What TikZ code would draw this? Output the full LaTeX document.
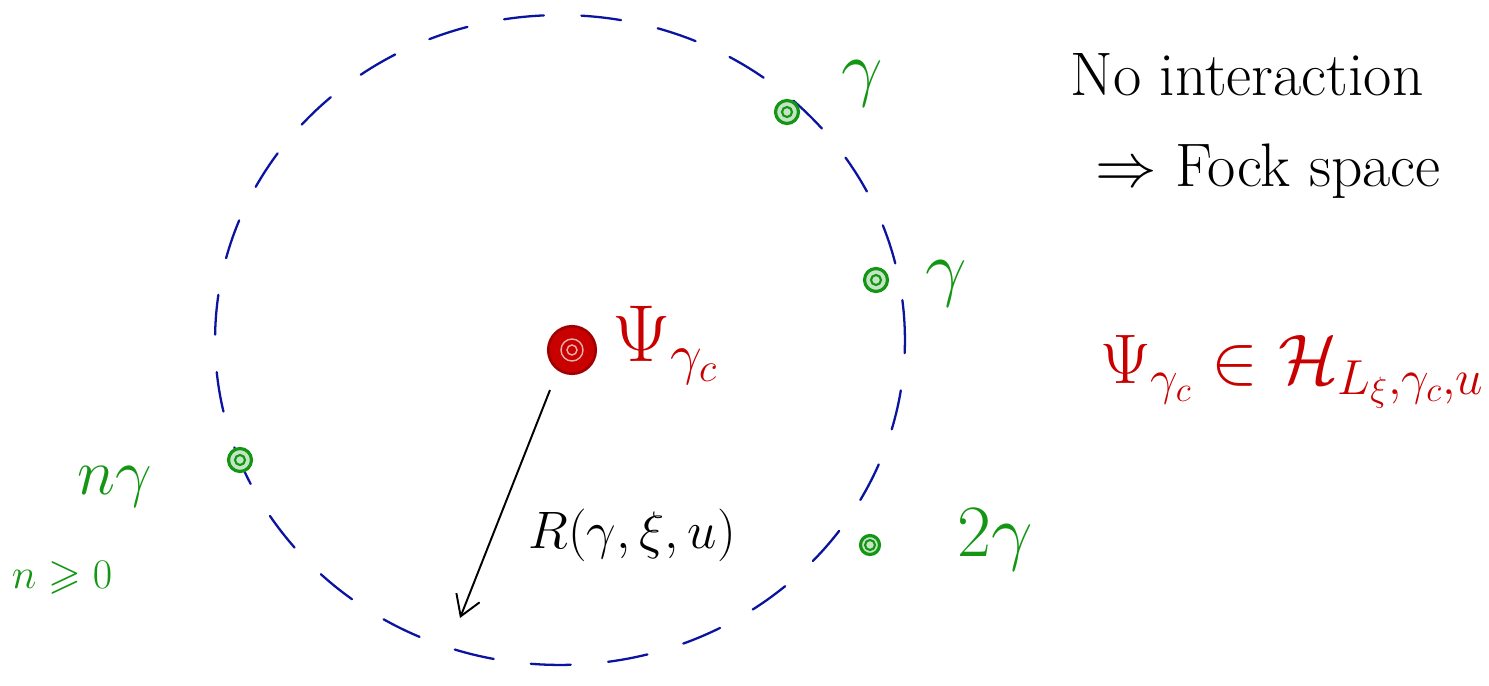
\RequirePackage{fix-cm}
\documentclass[tikz,border=0pt]{standalone}
\usepackage{amsmath,amssymb}
\usetikzlibrary{arrows.meta}
\definecolor{inkblue}{RGB}{10,20,160}
\definecolor{inkgreen}{RGB}{20,150,20}
\definecolor{inkred}{RGB}{200,0,0}
\tikzset{
  big/.style={font=\fontsize{35}{40}\selectfont, inner sep=0pt},
  huge/.style={font=\fontsize{42}{48}\selectfont, inner sep=0pt},
  gdot/.style={circle, draw=inkgreen, line width=1.8pt, fill=inkgreen!25, inner sep=0pt, minimum size=0.46cm},
  rdot/.style={circle, draw=inkred!80!black, line width=1.5pt, fill=inkred, inner sep=0pt, minimum size=0.95cm},
  orbit/.style={draw=inkblue, line width=1.3pt, dash pattern=on 0.8cm off 0.75cm, line cap=round},
}
\begin{document}
\begin{tikzpicture}[x=0.02cm,y=-0.02cm]
\useasboundingbox (0,0) rectangle (1489,686);
% dashed orbit
\path[orbit] (560,340) ellipse [x radius=6.9cm, y radius=6.5cm];
% green dots
\node[gdot] (g1) at (787,112) {};
\node[gdot] (g2) at (876,280) {};
\node[gdot] (g3) at (240,460) {};
\node[gdot, minimum size=0.38cm] (g4) at (870,545) {};
\foreach \g in {g1,g2,g3,g4} {\draw[inkgreen, line width=1.2pt] (\g.center) circle [radius=0.1cm];}
% red dot
\node[rdot] (rc) at (572,350) {};
\draw[white!70!inkred, line width=0.8pt] (rc.center) circle [radius=0.22cm];
\draw[white!70!inkred, line width=0.8pt] (rc.center) circle [radius=0.1cm];
% labels green
\node[huge, text=inkgreen] (l1) at (862,84) {$\gamma$};
\node[huge, text=inkgreen] (l2) at (946,284) {$\gamma$};
\node[text=inkgreen, font=\fontsize{37}{42}\selectfont, inner sep=0pt] (l3) at (115,487) {$n\gamma$};
\node[text=inkgreen, font=\fontsize{24}{28}\selectfont, inner sep=0pt] (l4) at (62,578) {$n\geqslant 0$};
\node[huge, text=inkgreen] (l5) at (995,540) {$2\gamma$};
% red label
\node[font=\fontsize{46}{52}\selectfont, inner sep=0pt, text=inkred] (lp) at (665,345) {$\Psi_{\gamma_c}$};
% radius arrow
\coordinate (ra) at (550,390);
\coordinate (rb) at (460,618);
\draw[line width=1.1pt, -{Straight Barb[length=0.4cm, width=0.5cm]}] (ra) -- (rb);
\node[font=\fontsize{30}{36}\selectfont, inner sep=0pt] (lr) at (632,535) {$R(\gamma,\xi,u)$};
% right texts
\node[big, anchor=base] (t1) at (1247,96) {No interaction};
\node[big, anchor=base] (t2) at (1268,187) {$\Rightarrow$ Fock space};
\node[font=\fontsize{40}{46}\selectfont, inner sep=0pt, text=inkred] (t3) at (1292,372) {$\Psi_{\gamma_c}\in\mathcal{H}_{L_\xi,\gamma_c,u}$};
\end{tikzpicture}
\end{document}
